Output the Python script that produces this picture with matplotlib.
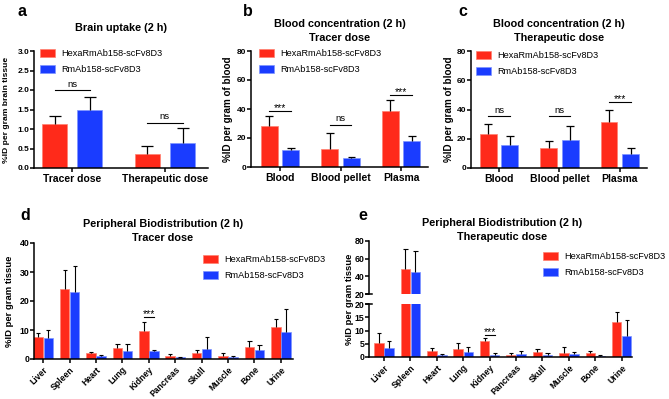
import numpy as np
import matplotlib
matplotlib.use('Agg')
import matplotlib.pyplot as plt
from matplotlib.patches import Patch

plt.rcParams['font.family'] = ['Liberation Sans', 'DejaVu Sans']

W, H = 669, 399
RED = '#ff2a1a'
BLUE = '#1a3cff'
RED_EDGE = '#ff8070'
BLUE_EDGE = '#7f95ff'

series = ['HexaRmAb158-scFv8D3', 'RmAb158-scFv8D3']

# a - brain uptake
brain_cats = ['Tracer dose', 'Therapeutic dose']
brain_hexa = [1.14, 0.37]
brain_hexa_err = [0.20, 0.20]
brain_rm = [1.49, 0.65]
brain_rm_err = [0.34, 0.38]
brain_sig = ['ns', 'ns']
brain_sig_y = [1.99, 1.16]

# b - blood, tracer dose
blood_cats = ['Blood', 'Blood pellet', 'Plasma']
tracer_hexa = [28.0, 12.4, 38.5]
tracer_hexa_err = [7.3, 11.2, 7.6]
tracer_rm = [11.5, 6.0, 18.1]
tracer_rm_err = [1.3, 0.7, 3.0]
tracer_sig = ['***', 'ns', '***']
tracer_sig_y = [38.8, 28.9, 49.5]

# c - blood, therapeutic dose
ther_hexa = [23.4, 13.4, 31.3]
ther_hexa_err = [6.5, 5.4, 8.4]
ther_rm = [15.4, 19.0, 9.8]
ther_rm_err = [6.4, 9.8, 4.0]
ther_sig = ['ns', 'ns', '***']
ther_sig_y = [35.4, 35.4, 45.1]

# d / e - peripheral organs
organs = ['Liver', 'Spleen', 'Heart', 'Lung', 'Kidney',
          'Pancreas', 'Skull', 'Muscle', 'Bone', 'Urine']
org_tr_hexa = [7.5, 24.3, 2.2, 3.7, 9.7, 1.0, 2.2, 1.1, 4.0, 11.1]
org_tr_hexa_err = [1.6, 6.5, 0.2, 1.6, 2.9, 0.6, 0.8, 0.9, 2.1, 2.6]
org_tr_rm = [7.4, 23.0, 1.0, 2.6, 2.6, 0.6, 3.3, 0.7, 3.2, 9.2]
org_tr_rm_err = [2.7, 9.1, 0.4, 2.7, 0.6, 0.2, 4.3, 0.4, 1.6, 7.9]
tr_kidney_sig_y = 14.4

org_th_hexa = [5.4, 48.3, 2.25, 3.0, 5.9, 0.9, 1.75, 1.6, 1.4, 13.25]
org_th_hexa_err = [3.5, 23.0, 1.25, 2.25, 1.2, 0.7, 1.15, 2.15, 0.7, 3.65]
org_th_rm = [3.5, 44.9, 0.6, 1.75, 0.9, 1.1, 0.75, 1.1, 0.5, 7.75]
org_th_rm_err = [2.6, 24.2, 0.5, 1.85, 0.6, 1.15, 0.65, 0.9, 0.25, 6.15]
th_kidney_sig_y = 8.4

fig = plt.figure(figsize=(W / 100, H / 100), dpi=100)


def px_axes(x0, ytop, x1, ybot):
    return fig.add_axes([x0 / W, 1 - ybot / H, (x1 - x0) / W, (ybot - ytop) / H])


def ftext(x, y, s, **kw):
    fig.text(x / W, 1 - y / H, s, **kw)


def style(ax, ytick_size):
    ax.spines[['top', 'right']].set_visible(False)
    for s in ['left', 'bottom']:
        ax.spines[s].set_linewidth(1.1)
    ax.tick_params(axis='y', width=1.1, length=2.8, labelsize=ytick_size, pad=0.6)
    for lab in ax.get_yticklabels():
        lab.set_fontweight('bold')


def draw_bars(ax, hexa, hexa_err, rm, rm_err, width, off, cap, lw=0.9):
    x = np.arange(len(hexa))
    ax.bar(x - off, hexa, width, color=RED, edgecolor=RED_EDGE, linewidth=0.5, zorder=2)
    ax.bar(x + off, rm, width, color=BLUE, edgecolor=BLUE_EDGE, linewidth=0.5, zorder=2)
    for xs, v, e in [(x - off, hexa, hexa_err), (x + off, rm, rm_err)]:
        v = np.asarray(v)
        top = v + np.asarray(e)
        ax.vlines(xs, v, top, color='k', lw=lw, zorder=3)
        ax.hlines(top, xs - cap, xs + cap, color='k', lw=lw, zorder=3)
    return x


def draw_sig(ax, xc, off, y, s):
    ax.plot([xc - off, xc + off], [y, y], color='k', lw=0.8, zorder=3)
    if s == 'ns':
        ax.annotate(s, (xc, y), xytext=(0, 1.2), textcoords='offset points',
                    ha='center', va='bottom', fontsize=6.8)
    else:
        ax.annotate(s, (xc, y), xytext=(0, -1.5), textcoords='offset points',
                    ha='center', va='bottom', fontsize=7.5)


def add_legend(ax, x, y):
    handles = [Patch(facecolor=RED, edgecolor=RED_EDGE, linewidth=0.5),
               Patch(facecolor=BLUE, edgecolor=BLUE_EDGE, linewidth=0.5)]
    ax.legend(handles, series, loc='upper left',
              bbox_to_anchor=(x / W, 1 - y / H), bbox_transform=fig.transFigure,
              frameon=False, fontsize=6.6, handlelength=1.64, handleheight=0.95,
              handletextpad=0.65, labelspacing=0.75, borderpad=0, borderaxespad=0)


# ---------- a ----------
ax = px_axes(34, 51, 208, 168)
x = draw_bars(ax, brain_hexa, brain_hexa_err, brain_rm, brain_rm_err, 0.27, 0.19, 0.065)
for i in range(len(brain_cats)):
    draw_sig(ax, x[i], 0.19, brain_sig_y[i], brain_sig[i])
ax.set_xlim(-0.412, 1.464)
ax.set_ylim(0, 3)
ax.set_yticks(np.arange(0, 3.01, 0.5))
ax.set_yticklabels(['%.1f' % v for v in np.arange(0, 3.01, 0.5)])
ax.set_xticks(x)
ax.set_xticklabels(brain_cats, fontsize=7.5, fontweight='bold')
ax.tick_params(axis='x', length=2.8, width=1.1, pad=1.2)
style(ax, 6.0)
add_legend(ax, 40, 49)
ftext(7, 110, '%ID per gram brain tissue', rotation=90, ha='center', va='center',
      fontsize=6.1, fontweight='bold')
ftext(121, 28, 'Brain uptake (2 h)', ha='center', va='center', fontsize=7.8, fontweight='bold')
ftext(22, 12, 'a', ha='center', va='center', fontsize=11.5, fontweight='bold')

# ---------- b / c ----------
for (x0, x1, ytop, ybot, xl, hx, hxe, rm, rme, sig, sig_y, sub, lab, lx, ylx, leg) in [
        (251, 428, 51, 167, (-0.48, 2.445), tracer_hexa, tracer_hexa_err, tracer_rm,
         tracer_rm_err, tracer_sig, tracer_sig_y, 'Tracer dose', 'b', 248, 228, (259, 49)),
        (471, 647, 51, 168, (-0.465, 2.45), ther_hexa, ther_hexa_err, ther_rm,
         ther_rm_err, ther_sig, ther_sig_y, 'Therapeutic dose', 'c', 463, 449, (476, 51))]:
    ax = px_axes(x0, ytop, x1, ybot)
    x = draw_bars(ax, hx, hxe, rm, rme, 0.28, 0.18, 0.065)
    for i in range(len(blood_cats)):
        draw_sig(ax, x[i], 0.18, sig_y[i], sig[i])
    ax.set_xlim(*xl)
    ax.set_ylim(0, 80)
    ax.set_yticks([0, 20, 40, 60, 80])
    ax.set_xticks(x)
    ax.set_xticklabels(blood_cats, fontsize=7.5, fontweight='bold')
    ax.tick_params(axis='x', length=2.8, width=1.1, pad=1.2)
    style(ax, 6.0)
    add_legend(ax, *leg)
    ftext(ylx, (ytop + ybot) / 2, '%ID per gram of blood', rotation=90, ha='center',
          va='center', fontsize=7.1, fontweight='bold')
    ftext((x0 + x1) / 2, 31, 'Blood concentration (2 h)\n' + sub, ha='center',
          va='center', fontsize=7.8, fontweight='bold', linespacing=1.4)
    ftext(lx, 12, lab, ha='center', va='center', fontsize=11.5, fontweight='bold')

# ---------- d ----------
ax = px_axes(34, 243, 293, 359)
x = draw_bars(ax, org_tr_hexa, org_tr_hexa_err, org_tr_rm, org_tr_rm_err, 0.36, 0.19, 0.08, lw=0.8)
draw_sig(ax, x[4], 0.19, tr_kidney_sig_y, '***')
ax.set_xlim(-0.35, 9.46)
ax.set_ylim(0, 40)
ax.set_yticks([0, 10, 20, 30, 40])
ax.set_xticks(x)
ax.set_xticklabels(organs, fontsize=6.2, fontweight='bold', rotation=45, ha='right',
                   rotation_mode='anchor')
ax.tick_params(axis='x', length=2.8, width=1.1, pad=1.5)
style(ax, 6.3)
add_legend(ax, 203, 255)
ftext(10, 301, '%ID per gram tissue', rotation=90, ha='center', va='center',
      fontsize=6.8, fontweight='bold')
ftext(163, 231, 'Peripheral Biodistribution (2 h)\nTracer dose', ha='center', va='center',
      fontsize=7.8, fontweight='bold', linespacing=1.4)
ftext(25, 216, 'd', ha='center', va='center', fontsize=11.5, fontweight='bold')

# ---------- e (broken y axis) ----------
axu = px_axes(369, 241, 632, 294)
axl = px_axes(369, 304, 632, 357)
for a in (axu, axl):
    x = draw_bars(a, org_th_hexa, org_th_hexa_err, org_th_rm, org_th_rm_err, 0.36, 0.19, 0.08, lw=0.8)
    a.set_xlim(-0.57, 9.39)
axu.set_ylim(20, 80)
axu.set_yticks([20, 40, 60, 80])
axu.set_xticks([])
axl.set_ylim(0, 20)
axl.set_yticks([0, 5, 10, 15, 20])
axl.set_xticks(x)
axl.set_xticklabels(organs, fontsize=6.2, fontweight='bold', rotation=45, ha='right',
                    rotation_mode='anchor')
axl.tick_params(axis='x', length=2.8, width=1.1, pad=1.5)
for a in (axu, axl):
    style(a, 6.3)
axu.spines['bottom'].set_visible(False)
draw_sig(axl, x[4], 0.19, th_kidney_sig_y, '***')
# break marks
for a, yv in [(axu, 20), (axl, 20)]:
    a.plot([-0.012, 0.012], [yv, yv], color='k', lw=1.1, clip_on=False,
           transform=a.get_yaxis_transform())
add_legend(axu, 543, 252)
ftext(350, 299, '%ID per gram tissue', rotation=90, ha='center', va='center',
      fontsize=6.8, fontweight='bold')
ftext(502, 230, 'Peripheral Biodistribution (2 h)\nTherapeutic dose', ha='center',
      va='center', fontsize=7.8, fontweight='bold', linespacing=1.4)
ftext(363, 215, 'e', ha='center', va='center', fontsize=11.5, fontweight='bold')

fig.savefig('out.png', dpi=100)
